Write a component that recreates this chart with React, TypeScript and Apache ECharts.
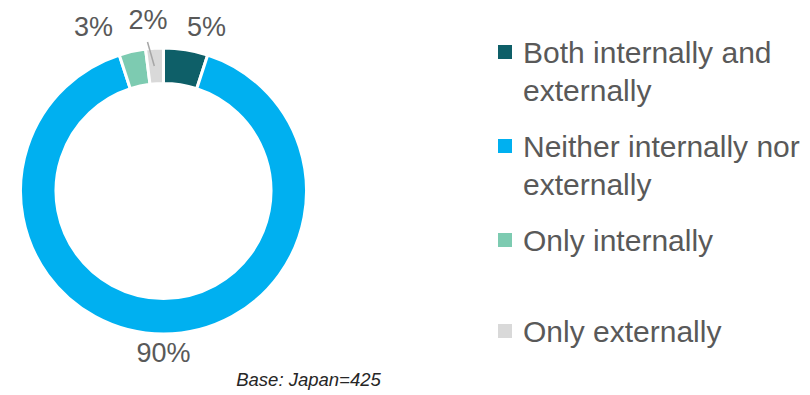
import React, { useEffect, useRef } from "react";
import * as echarts from "echarts";

const CATEGORIES = [
  "Both internally and externally",
  "Neither internally nor externally",
  "Only internally",
  "Only externally",
];
const VALUES = [5, 90, 3, 2];
const COLORS = ["#0E5F68", "#00B0F0", "#7DCBB1", "#D9D9D9"];
const BASE_NOTE = "Base: Japan=425";

// layout (not data)
const LABEL_POS: [number, number][] = [
  [206.5, 27],
  [163.5, 353],
  [93.5, 26.5],
  [148, 19.5],
];
const LEADER: [number, number][] = [
  [154.3, 66],
  [147.5, 42],
];
const LEGEND_X = 498;
const LEGEND_Y = [52, 146, 240, 331];
const TEXT_COLOR = "#595959";
const FONT = "'Liberation Sans', Arial, sans-serif";
const CENTER = [163.5, 191];
const RADIUS = [107.5, 143];

export default function App() {
  const ref = useRef<HTMLDivElement>(null);
  useEffect(() => {
    if (!ref.current) return;
    const chart = echarts.init(ref.current, null, { renderer: "svg" });
    const legendGraphics: any[] = [];
    CATEGORIES.forEach((name, i) => {
      legendGraphics.push({
        type: "rect",
        shape: { x: LEGEND_X, y: LEGEND_Y[i] - 7, width: 14, height: 14 },
        style: { fill: COLORS[i] },
        silent: true,
      });
      legendGraphics.push({
        type: "text",
        x: LEGEND_X + 25,
        y: LEGEND_Y[i] - 19,
        style: {
          text: name,
          fill: TEXT_COLOR,
          fontSize: 30,
          fontFamily: FONT,
          lineHeight: 38,
          width: 292,
          overflow: "break",
          verticalAlign: "top",
          align: "left",
        },
        silent: true,
      });
    });
    legendGraphics.push({
      type: "text",
      x: 308.5,
      y: 379,
      style: {
        text: BASE_NOTE,
        fill: "#262626",
        fontSize: 18.5,
        fontStyle: "italic",
        fontFamily: FONT,
        align: "center",
        verticalAlign: "middle",
      },
      silent: true,
    });

    chart.setOption({
      animation: false,
      backgroundColor: "#ffffff",
      textStyle: { fontFamily: FONT },
      graphic: { elements: legendGraphics },
      series: [
        {
          type: "pie",
          name: "ring",
          z: 2,
          center: CENTER,
          radius: RADIUS,
          startAngle: 90,
          clockwise: true,
          silent: true,
          itemStyle: { borderColor: "#ffffff", borderWidth: 3 },
          label: { show: false },
          labelLine: { show: false },
          data: CATEGORIES.map((name, i) => ({
            name,
            value: VALUES[i],
            itemStyle: { color: COLORS[i] },
          })),
        },
        {
          type: "pie",
          name: "labels",
          z: 10,
          center: CENTER,
          radius: RADIUS,
          startAngle: 90,
          clockwise: true,
          silent: true,
          avoidLabelOverlap: false,
          itemStyle: { color: "rgba(0,0,0,0)", borderWidth: 0 },
          label: {
            show: true,
            position: "outside",
            formatter: "{c}%",
            color: TEXT_COLOR,
            fontSize: 27,
            fontFamily: FONT,
          },
          labelLine: {
            show: true,
            length: 10,
            length2: 0,
            lineStyle: { color: "#A6A6A6", width: 1.5 },
          },
          labelLayout: (params: any) => {
            const i = params.dataIndex;
            return {
              x: LABEL_POS[i][0],
              y: LABEL_POS[i][1],
              align: "center",
              verticalAlign: "middle",
              labelLinePoints: [LEADER[0], LEADER[1], LEADER[1]],
            };
          },
          data: CATEGORIES.map((name, i) => ({
            name,
            value: VALUES[i],
            itemStyle: { color: "rgba(0,0,0,0)" },
            labelLine: { show: i === 3 },
          })),
        },
      ],
    });
    return () => chart.dispose();
  }, []);
  return (
    <div
      ref={ref}
      style={{ position: "absolute", left: 0, top: 0, width: 810, height: 395 }}
    />
  );
}
